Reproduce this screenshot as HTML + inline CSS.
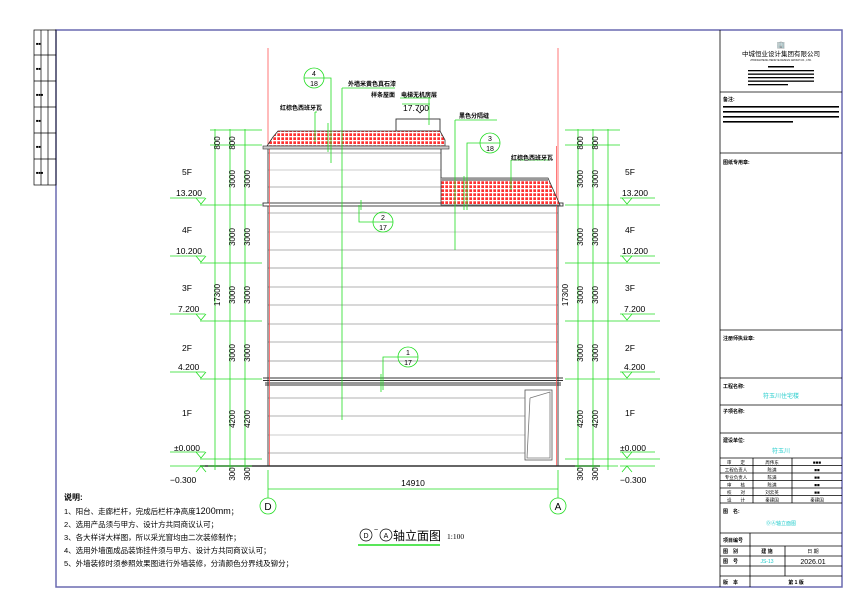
<!DOCTYPE html>
<html><head><meta charset="utf-8"><style>
html,body{margin:0;padding:0;background:#fff;width:860px;height:607px;overflow:hidden}
svg{display:block}
text{font-family:"Liberation Sans","Noto Sans CJK SC",sans-serif}
.s{font-family:"Liberation Serif","Noto Serif CJK SC",serif}
</style></head><body>
<svg width="860" height="607" viewBox="0 0 860 607" xmlns="http://www.w3.org/2000/svg">
<defs>
<pattern id="tile" width="4" height="4" patternUnits="userSpaceOnUse">
<rect width="4" height="4" fill="#ff3030"/>
<rect x="0" y="0" width="1.3" height="4" fill="#fff"/>
<rect x="0" y="0" width="4" height="1.3" fill="#fff"/>
</pattern>
</defs>
<rect x="56" y="30" width="786" height="557" fill="none" stroke="#6a6ab0" stroke-width="1.5"/>
<g stroke="#000" stroke-width="0.7" fill="none">
<rect x="34" y="30" width="22" height="155"/>
<line x1="41" y1="30" x2="41" y2="185"/><line x1="48" y1="30" x2="48" y2="185"/>
<line x1="34" y1="55" x2="56" y2="55"/><line x1="34" y1="81" x2="56" y2="81"/>
<line x1="34" y1="107" x2="56" y2="107"/><line x1="34" y1="133" x2="56" y2="133"/>
<line x1="34" y1="159" x2="56" y2="159"/>
</g>
<g font-size="4" fill="#000">
<text x="36" y="45">■■</text><text x="36" y="70">■■</text><text x="36" y="96">■■■</text><text x="36" y="122">■■</text><text x="36" y="148">■■</text><text x="36" y="174">■■■</text>
</g>

<g stroke="#000" stroke-width="0.8" fill="none">
<line x1="720" y1="30" x2="720" y2="587"/>
<line x1="720" y1="92" x2="842" y2="92"/>
<line x1="720" y1="153" x2="842" y2="153"/>
<line x1="720" y1="330" x2="842" y2="330"/>
<line x1="720" y1="378" x2="842" y2="378"/>
<line x1="720" y1="405" x2="842" y2="405"/>
<line x1="720" y1="433" x2="842" y2="433"/>
<line x1="720" y1="458" x2="842" y2="458"/>
<line x1="720" y1="465.5" x2="842" y2="465.5"/>
<line x1="720" y1="473" x2="842" y2="473"/>
<line x1="720" y1="480.5" x2="842" y2="480.5"/>
<line x1="720" y1="488" x2="842" y2="488"/>
<line x1="720" y1="495.5" x2="842" y2="495.5"/>
<line x1="720" y1="503" x2="842" y2="503"/>
<line x1="753" y1="458" x2="753" y2="503"/>
<line x1="792" y1="458" x2="792" y2="503"/>
<line x1="720" y1="533" x2="842" y2="533"/>
<line x1="720" y1="546" x2="842" y2="546"/>
<line x1="720" y1="556" x2="842" y2="556"/>
<line x1="720" y1="566" x2="842" y2="566"/>
<line x1="720" y1="576" x2="842" y2="576"/>
<line x1="750" y1="533" x2="750" y2="587"/>
<line x1="785" y1="546" x2="785" y2="576"/>
</g>
<g fill="#000">
<text x="781" y="47" font-size="7" text-anchor="middle" font-weight="bold">🏢</text>
<text x="781" y="56" font-size="6.5" text-anchor="middle">中城恒业设计集团有限公司</text>
<text x="781" y="61" font-size="2.5" text-anchor="middle">ZHONGCHENG HENGYE DESIGN GROUP CO., LTD.</text>
<rect x="768" y="66" width="26" height="1.5"/><rect x="748" y="70" width="66" height="1.3"/><rect x="748" y="73.5" width="66" height="1.3"/><rect x="748" y="77" width="66" height="1.3"/><rect x="748" y="80.5" width="66" height="1.3"/><rect x="748" y="84" width="40" height="1.3"/>
<text x="723" y="101" font-size="5" font-weight="bold">备注:</text>
<rect x="723" y="106" width="116" height="1.6"/><rect x="723" y="111" width="116" height="1.6"/><rect x="723" y="116" width="116" height="1.6"/><rect x="723" y="121" width="70" height="1.6"/>
<text x="723" y="164" font-size="5" font-weight="bold">图纸专用章:</text>
<text x="723" y="340" font-size="5" font-weight="bold">注册师执业章:</text>
<text x="723" y="388" font-size="5" font-weight="bold">工程名称:</text>
<text x="781" y="398" font-size="6" fill="#2cc" text-anchor="middle">符玉川住宅楼</text>
<text x="723" y="413" font-size="5" font-weight="bold">子项名称:</text>
<text x="723" y="442" font-size="5" font-weight="bold">建设单位:</text>
<text x="781" y="453" font-size="6" fill="#2cc" text-anchor="middle">符玉川</text>
<g font-size="4.5">
<text x="736" y="464" text-anchor="middle">审　　定</text><text x="772" y="464" text-anchor="middle">周伟东</text><text x="817" y="464" text-anchor="middle">■■■</text>
<text x="736" y="471.5" text-anchor="middle">工程负责人</text><text x="772" y="471.5" text-anchor="middle">陈满</text><text x="817" y="471.5" text-anchor="middle">■■</text>
<text x="736" y="479" text-anchor="middle">专业负责人</text><text x="772" y="479" text-anchor="middle">陈满</text><text x="817" y="479" text-anchor="middle">■■</text>
<text x="736" y="486.5" text-anchor="middle">审　　核</text><text x="772" y="486.5" text-anchor="middle">陈满</text><text x="817" y="486.5" text-anchor="middle">■■</text>
<text x="736" y="494" text-anchor="middle">校　　对</text><text x="772" y="494" text-anchor="middle">刘云英</text><text x="817" y="494" text-anchor="middle">■■</text>
<text x="736" y="501.5" text-anchor="middle">设　　计</text><text x="772" y="501.5" text-anchor="middle">秦建国</text><text x="817" y="501.5" text-anchor="middle">秦建国</text>
</g>
<text x="723" y="513" font-size="5" font-weight="bold">图　名:</text>
<text x="781" y="525" font-size="5" fill="#2cc" text-anchor="middle">ⒹⒶ轴立面图</text>
<text x="723" y="542" font-size="5" font-weight="bold">项目编号</text>
<text x="723" y="553" font-size="5" font-weight="bold">图　别</text><text x="767" y="553" font-size="5" text-anchor="middle" font-weight="bold">建 施</text><text x="813" y="553" font-size="5" text-anchor="middle">日 期</text>
<text x="723" y="563" font-size="5" font-weight="bold">图　号</text><text x="767" y="563" font-size="5" text-anchor="middle" fill="#2cc">JS-13</text><text x="813" y="564" font-size="7" text-anchor="middle">2026.01</text>
<text x="723" y="584" font-size="5" font-weight="bold">版　本</text><text x="796" y="584" font-size="5" text-anchor="middle" font-weight="bold">第 1 版</text>
</g>

<g>
<g stroke="#999" stroke-width="0.8">
<line x1="268" y1="153" x2="441" y2="153"/><line x1="268" y1="170" x2="441" y2="170" stroke="#bbb"/><line x1="268" y1="187" x2="441" y2="187"/>
<line x1="268" y1="213" x2="558" y2="213"/><line x1="268" y1="232" x2="558" y2="232" stroke="#bbb"/><line x1="268" y1="250" x2="558" y2="250"/>
<line x1="268" y1="268" x2="558" y2="268" stroke="#bbb" stroke-width="1.2"/><line x1="268" y1="287" x2="558" y2="287"/><line x1="268" y1="305" x2="558" y2="305"/>
<line x1="268" y1="324" x2="558" y2="324"/><line x1="268" y1="342" x2="558" y2="342"/><line x1="268" y1="361" x2="558" y2="361" stroke="#bbb" stroke-width="1.2"/>
<line x1="268" y1="398" x2="525" y2="398"/><line x1="268" y1="416" x2="525" y2="416"/><line x1="268" y1="435" x2="525" y2="435" stroke="#bbb"/><line x1="268" y1="453" x2="525" y2="453"/>
</g>
<g stroke="#333" fill="none" stroke-width="0.9">
<line x1="268" y1="146" x2="268" y2="466"/>
<line x1="558" y1="205" x2="558" y2="466"/>
<line x1="441" y1="146" x2="441" y2="178"/>
<rect x="263" y="203" width="300" height="3" fill="#fff"/>
<line x1="263" y1="378" x2="563" y2="378"/>
<line x1="263" y1="380.5" x2="563" y2="380.5"/>
<line x1="265" y1="383" x2="561" y2="383"/>
<line x1="265" y1="385" x2="561" y2="385"/>
<rect x="396" y="119" width="44" height="12" fill="#fff"/>
</g>
<line x1="269.5" y1="146" x2="269.5" y2="466" stroke="#f55" stroke-width="0.8"/>
<line x1="556.5" y1="146" x2="556.5" y2="466" stroke="#f55" stroke-width="0.8"/>
<line x1="268" y1="48" x2="268" y2="146" stroke="#f55" stroke-width="0.8"/>
<line x1="558" y1="48" x2="558" y2="205" stroke="#f55" stroke-width="0.8"/>
<polygon points="278,131 440,131 445,140 445,146 267,146 273,137" fill="url(#tile)" stroke="#333" stroke-width="0.8"/>
<rect x="263" y="146" width="186" height="3" fill="#ccc" stroke="#333" stroke-width="0.6"/>
<polygon points="441,178 548,178 560,205 441,205" fill="url(#tile)" stroke="#333" stroke-width="0.8"/>
<rect x="441" y="178" width="107" height="3" fill="#999"/>
<rect x="525" y="390" width="27" height="70" fill="#fff" stroke="#555" stroke-width="0.8"/>
<polyline points="530,398 550,392 550,458 527,458 530,398" fill="none" stroke="#777" stroke-width="0.8"/>
<line x1="200" y1="466" x2="600" y2="466" stroke="#333" stroke-width="1.6"/>
</g>

<g stroke="#2d2" stroke-width="0.8" fill="none">
<line x1="215" y1="129" x2="215" y2="470"/><line x1="230" y1="129" x2="230" y2="470"/><line x1="245" y1="129" x2="245" y2="470"/>
<line x1="578" y1="129" x2="578" y2="470"/><line x1="593" y1="129" x2="593" y2="470"/><line x1="608" y1="129" x2="608" y2="470"/>
<line x1="210" y1="130" x2="262" y2="130"/><line x1="210" y1="145" x2="262" y2="145"/>
<line x1="200" y1="205" x2="262" y2="205"/><line x1="200" y1="263" x2="262" y2="263"/><line x1="200" y1="321" x2="262" y2="321"/><line x1="200" y1="379" x2="262" y2="379"/><line x1="200" y1="459" x2="262" y2="459"/>
<line x1="565" y1="130" x2="620" y2="130"/><line x1="565" y1="145" x2="620" y2="145"/>
<line x1="565" y1="205" x2="660" y2="205"/><line x1="565" y1="263" x2="660" y2="263"/><line x1="565" y1="321" x2="660" y2="321"/><line x1="565" y1="379" x2="660" y2="379"/><line x1="565" y1="459" x2="660" y2="459"/>
<line x1="170" y1="198" x2="205" y2="198"/><polyline points="196,198 201,204 206,198"/>
<line x1="170" y1="256" x2="205" y2="256"/><polyline points="196,256 201,262 206,256"/>
<line x1="170" y1="314" x2="205" y2="314"/><polyline points="196,314 201,320 206,314"/>
<line x1="170" y1="372" x2="205" y2="372"/><polyline points="196,372 201,378 206,372"/>
<line x1="170" y1="452" x2="205" y2="452"/><polyline points="196,452 201,458 206,452"/>
<line x1="170" y1="466" x2="205" y2="466"/><polyline points="196,472 201,466 206,472"/>
<line x1="620" y1="198" x2="655" y2="198"/><polyline points="622,198 627,204 632,198"/>
<line x1="620" y1="256" x2="655" y2="256"/><polyline points="622,256 627,262 632,256"/>
<line x1="620" y1="314" x2="655" y2="314"/><polyline points="622,314 627,320 632,314"/>
<line x1="620" y1="372" x2="655" y2="372"/><polyline points="622,372 627,378 632,372"/>
<line x1="620" y1="452" x2="655" y2="452"/><polyline points="622,452 627,458 632,452"/>
<line x1="620" y1="466" x2="655" y2="466"/><polyline points="622,472 627,466 632,472"/>
<line x1="208" y1="466" x2="252" y2="466"/><line x1="575" y1="466" x2="618" y2="466"/>
<line x1="268" y1="470" x2="268" y2="498"/><line x1="558" y1="470" x2="558" y2="498"/>
<line x1="268" y1="489" x2="558" y2="489"/>
<circle cx="268" cy="506" r="8"/><circle cx="558" cy="506" r="8"/>
<circle cx="314" cy="78" r="10"/><line x1="304" y1="78" x2="324" y2="78"/>
<polyline points="324,78 331,78 331,163"/><line x1="328" y1="123" x2="328" y2="152"/>
<line x1="342" y1="88" x2="342" y2="420"/><line x1="342" y1="88" x2="395" y2="88"/>
<circle cx="490" cy="143" r="10"/><line x1="480" y1="143" x2="500" y2="143"/>
<polyline points="480,143 467,143 467,210"/><line x1="464" y1="176" x2="464" y2="210"/>
<line x1="455" y1="120" x2="455" y2="250"/><line x1="455" y1="120" x2="497" y2="120"/>
<polyline points="431,98 429,98 429,125" /><line x1="400" y1="98" x2="429" y2="98"/>
<circle cx="383" cy="222" r="10"/><line x1="373" y1="222" x2="393" y2="222"/>
<polyline points="373,222 359,222 359,205"/><line x1="361" y1="200" x2="361" y2="210"/>
<circle cx="408" cy="357" r="10"/><line x1="398" y1="357" x2="418" y2="357"/>
<polyline points="398,357 383,357 383,390"/><line x1="381" y1="374" x2="381" y2="392"/>
<line x1="315" y1="112" x2="315" y2="142"/><line x1="315" y1="112" x2="317" y2="112"/>
<line x1="511" y1="160" x2="511" y2="190"/><line x1="511" y1="160" x2="550" y2="160"/>
<line x1="402" y1="104" x2="430" y2="104"/>
<line x1="358" y1="545" x2="440" y2="545" stroke-width="1.5"/>
</g>
<polyline points="416,109 420,113 424,109" fill="none" stroke="#000" stroke-width="0.7"/>

<g font-size="8" fill="#000" class="s">
<g transform="translate(220,143) rotate(-90)"><text text-anchor="middle">800</text></g>
<g transform="translate(235,143) rotate(-90)"><text text-anchor="middle">800</text></g>
<g transform="translate(583,143) rotate(-90)"><text text-anchor="middle">800</text></g>
<g transform="translate(598,143) rotate(-90)"><text text-anchor="middle">800</text></g>
<g transform="translate(235,179) rotate(-90)"><text text-anchor="middle">3000</text></g>
<g transform="translate(250,179) rotate(-90)"><text text-anchor="middle">3000</text></g>
<g transform="translate(235,237) rotate(-90)"><text text-anchor="middle">3000</text></g>
<g transform="translate(250,237) rotate(-90)"><text text-anchor="middle">3000</text></g>
<g transform="translate(235,295) rotate(-90)"><text text-anchor="middle">3000</text></g>
<g transform="translate(250,295) rotate(-90)"><text text-anchor="middle">3000</text></g>
<g transform="translate(235,353) rotate(-90)"><text text-anchor="middle">3000</text></g>
<g transform="translate(250,353) rotate(-90)"><text text-anchor="middle">3000</text></g>
<g transform="translate(235,419) rotate(-90)"><text text-anchor="middle">4200</text></g>
<g transform="translate(250,419) rotate(-90)"><text text-anchor="middle">4200</text></g>
<g transform="translate(235,474) rotate(-90)"><text text-anchor="middle">300</text></g>
<g transform="translate(250,474) rotate(-90)"><text text-anchor="middle">300</text></g>
<g transform="translate(220,295) rotate(-90)"><text text-anchor="middle">17300</text></g>
<g transform="translate(583,179) rotate(-90)"><text text-anchor="middle">3000</text></g>
<g transform="translate(598,179) rotate(-90)"><text text-anchor="middle">3000</text></g>
<g transform="translate(583,237) rotate(-90)"><text text-anchor="middle">3000</text></g>
<g transform="translate(598,237) rotate(-90)"><text text-anchor="middle">3000</text></g>
<g transform="translate(583,295) rotate(-90)"><text text-anchor="middle">3000</text></g>
<g transform="translate(598,295) rotate(-90)"><text text-anchor="middle">3000</text></g>
<g transform="translate(583,353) rotate(-90)"><text text-anchor="middle">3000</text></g>
<g transform="translate(598,353) rotate(-90)"><text text-anchor="middle">3000</text></g>
<g transform="translate(583,419) rotate(-90)"><text text-anchor="middle">4200</text></g>
<g transform="translate(598,419) rotate(-90)"><text text-anchor="middle">4200</text></g>
<g transform="translate(583,474) rotate(-90)"><text text-anchor="middle">300</text></g>
<g transform="translate(598,474) rotate(-90)"><text text-anchor="middle">300</text></g>
<g transform="translate(568,295) rotate(-90)"><text text-anchor="middle">17300</text></g>
</g>
<g font-size="8.5" fill="#000">
<text x="182" y="175">5F</text><text x="182" y="233">4F</text><text x="182" y="291">3F</text><text x="182" y="351">2F</text><text x="182" y="416">1F</text>
<text x="176" y="196">13.200</text><text x="176" y="254">10.200</text><text x="178" y="312">7.200</text><text x="178" y="370">4.200</text><text x="174" y="451">±0.000</text><text x="170" y="483">−0.300</text>
<text x="625" y="175">5F</text><text x="625" y="233">4F</text><text x="625" y="291">3F</text><text x="625" y="351">2F</text><text x="625" y="416">1F</text>
<text x="622" y="196">13.200</text><text x="622" y="254">10.200</text><text x="624" y="312">7.200</text><text x="624" y="370">4.200</text><text x="620" y="451">±0.000</text><text x="620" y="483">−0.300</text>
<text x="413" y="486" text-anchor="middle">14910</text>
<text x="403" y="111">17.700</text>
</g>
<g fill="#000" class="s">
<text x="268" y="510" font-size="10" text-anchor="middle">D</text>
<text x="558" y="510" font-size="10" text-anchor="middle">A</text>
<text x="314" y="76" font-size="7" text-anchor="middle">4</text><text x="314" y="86" font-size="7" text-anchor="middle">18</text>
<text x="490" y="141" font-size="7" text-anchor="middle">3</text><text x="490" y="151" font-size="7" text-anchor="middle">18</text>
<text x="383" y="220" font-size="7" text-anchor="middle">2</text><text x="383" y="230" font-size="7" text-anchor="middle">17</text>
<text x="408" y="355" font-size="7" text-anchor="middle">1</text><text x="408" y="365" font-size="7" text-anchor="middle">17</text>
</g>
<g fill="#000" font-size="6" font-weight="bold">
<text x="280" y="110">红棕色西班牙瓦</text>
<text x="348" y="86">外墙米黄色真石漆</text>
<text x="371" y="97">样条屋面</text>
<text x="401" y="97">电梯无机房层</text>
<text x="459" y="118">黑色分隔缝</text>
<text x="511" y="160">红棕色西班牙瓦</text>
</g>
<g fill="#000">
<circle cx="366" cy="535" r="6" fill="none" stroke="#000" stroke-width="0.7"/><text x="366" y="538" font-size="7" text-anchor="middle">D</text>
<text x="374" y="532" font-size="7">~</text>
<circle cx="386" cy="535" r="6" fill="none" stroke="#000" stroke-width="0.7"/><text x="386" y="538" font-size="7" text-anchor="middle">A</text>
<text x="393" y="540" font-size="12" font-family="Noto Serif CJK SC,serif">轴立面图</text>
<text x="447" y="539" font-size="7.5" class="s">1:100</text>
</g>
<g fill="#000" font-size="7.5">
<text x="64" y="500" font-weight="bold" font-size="8">说明:</text>
<text x="64" y="514">1、阳台、走廊栏杆，完成后栏杆净高度<tspan font-size="9">1200mm</tspan>；</text>
<text x="64" y="527">2、选用产品须与甲方、设计方共同商议认可；</text>
<text x="64" y="540">3、各大样详大样图，所以采光窗均由二次装修制作；</text>
<text x="64" y="553">4、选用外墙面成品装饰挂件须与甲方、设计方共同商议认可；</text>
<text x="64" y="566">5、外墙装修时须参照效果图进行外墙装修，分清颜色分界线及铆分；</text>
</g>
</svg>
</body></html>
